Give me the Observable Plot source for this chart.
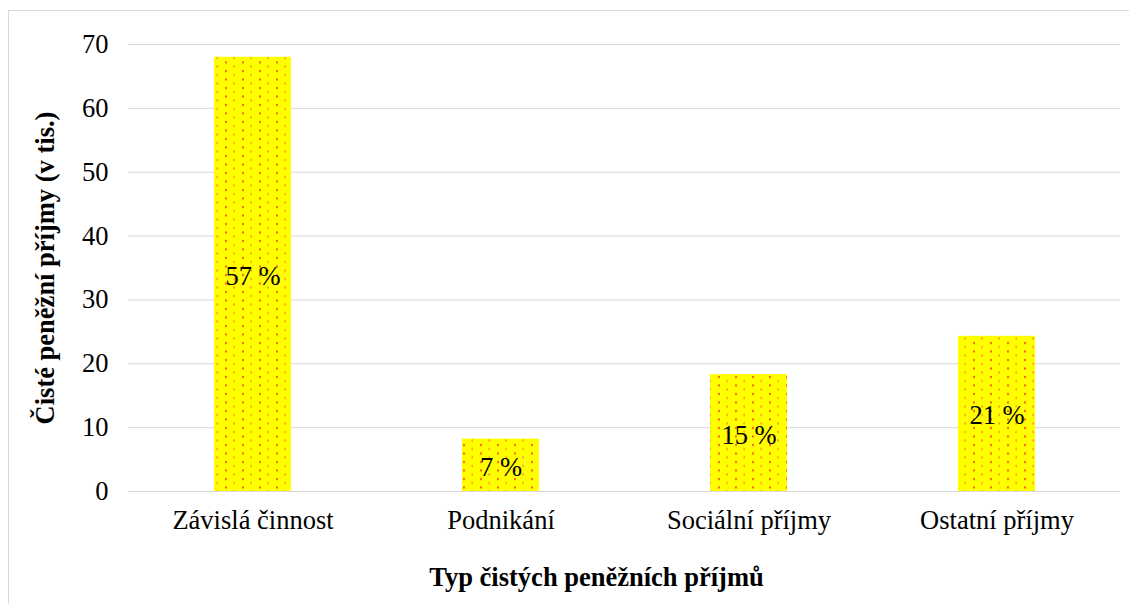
<!DOCTYPE html>
<html>
<head>
<meta charset="utf-8">
<script src="https://cdn.jsdelivr.net/npm/d3@7"></script>
<script src="https://cdn.jsdelivr.net/npm/@observablehq/plot@0.6"></script>
<style>
  html, body { margin: 0; padding: 0; background: #fff; }
  #wrap { position: relative; width: 1129px; height: 604px; overflow: hidden; }
  #frame { position: absolute; left: 8px; top: 10px; width: 1140px; height: 620px; border: 1px solid #d9d9d9; box-sizing: border-box; }
  #wrap svg { position: absolute; left: 0; top: 0; }
  #wrap svg, #wrap svg text { font-family: "Liberation Serif", "DejaVu Serif", serif !important; }
</style>
</head>
<body>
<div id="wrap"><div id="frame"></div></div>
<script>
const categories = ["Závislá činnost", "Podnikání", "Sociální příjmy", "Ostatní příjmy"];
const values = [68, 8.2, 18.3, 24.3];
const shares = ["57 %", "7 %", "15 %", "21 %"];
const yTicks = [0, 10, 20, 30, 40, 50, 60, 70];
const yTitle = "Čisté peněžní příjmy (v tis.)";
const xTitle = "Typ čistých peněžních příjmů";

const data = categories.map((c, i) => ({cat: c, value: values[i], share: shares[i]}));

const font = "Liberation Serif, DejaVu Serif, serif";
const fs = 26.5;

const chart = Plot.plot({
  width: 1129,
  height: 604,
  marginLeft: 128,
  marginRight: 9,
  marginTop: 44,
  marginBottom: 113,
  style: {fontFamily: font, color: "#000", background: "transparent"},
  x: {domain: categories, paddingInner: 0.69, paddingOuter: 0.345, label: null},
  y: {domain: [0, 70], label: null},
  marks: [
    Plot.gridY(yTicks, {stroke: "#d9d9d9", strokeOpacity: 1, strokeWidth: 1}),
    Plot.barY(data, {x: "cat", y: "value", fill: "url(#dots)"}),
    Plot.ruleY([0], {stroke: "#d9d9d9", strokeWidth: 1}),
    Plot.text(data, {x: "cat", y: d => d.value / 2, dy: 2, text: "share", fontSize: fs, fill: "#000", fontFamily: font}),
    Plot.axisY({ticks: yTicks, tickSize: 0, tickPadding: 20, fontSize: fs, label: null, fontFamily: font}),
    Plot.axisX({tickSize: 0, tickPadding: 19, fontSize: fs, label: null, fontFamily: font}),
    Plot.text([yTitle], {frameAnchor: "left", dx: -83, rotate: -90, textAnchor: "middle", fontWeight: "bold", fontSize: fs, fontFamily: font, text: d => d}),
    Plot.text([xTitle], {frameAnchor: "bottom", lineAnchor: "middle", dy: 86, dx: -28, fontWeight: "bold", fontSize: fs, fontFamily: font, text: d => d})
  ]
});

// pattern definition for the dotted yellow fill
const ns = "http://www.w3.org/2000/svg";
const defs = document.createElementNS(ns, "defs");
defs.innerHTML = `
<pattern id="dots" patternUnits="userSpaceOnUse" width="17" height="8.5" x="0" y="0">
  <rect width="17" height="8.5" fill="#ffff00"></rect>
  <rect x="4" y="2" width="2" height="2" fill="#ff5a14"></rect>
  <rect x="12.5" y="6" width="1.3" height="2" fill="#ff7a2a"></rect>
</pattern>`;
chart.insertBefore(defs, chart.firstChild);
document.getElementById("wrap").appendChild(chart);
</script>
</body>
</html>
